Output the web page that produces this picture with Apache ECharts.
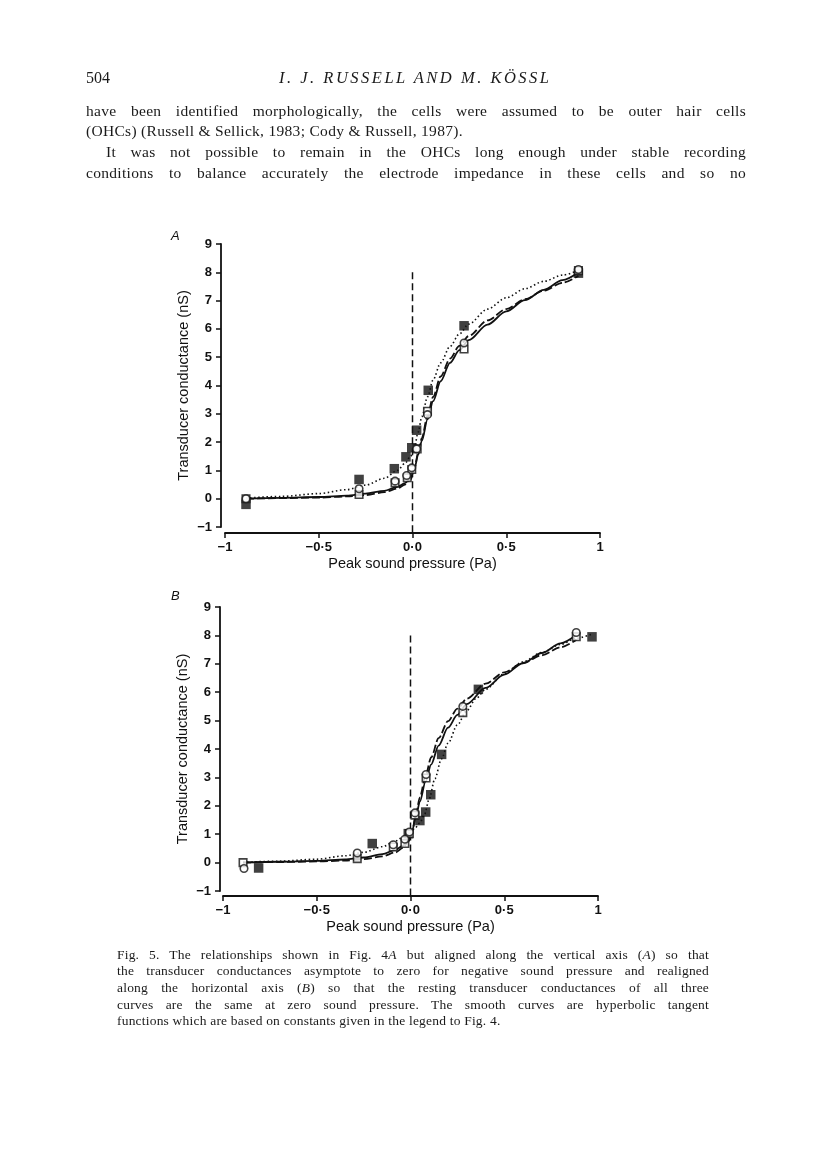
<!DOCTYPE html>
<html>
<head>
<meta charset="utf-8">
<script src="https://cdn.jsdelivr.net/npm/echarts@6/dist/echarts.min.js"></script>
<style>
  body { margin: 0; background: #fff; }
  #page { position: relative; width: 816px; height: 1166px; overflow: hidden; }
  #chart { position: absolute; left: 0; top: 0; width: 816px; height: 1166px; }
  .txt { position: absolute; font-family: "Liberation Serif", "DejaVu Serif", serif; color: #1a1a1a; }
  .body { left: 86px; width: 660px; font-size: 15.5px; letter-spacing: 0.3px; }
  .line { height: 20.7px; line-height: 20.7px; text-align: justify; text-align-last: justify; }
  .line.last { text-align-last: left; }
  .cap { left: 117px; width: 592px; font-size: 13.5px; letter-spacing: 0.2px; }
  .cap .line { height: 16.7px; line-height: 16.7px; }
</style>
</head>
<body>
<div id="page">
  <div id="chart"></div>

  <div class="txt" style="left:86px;top:68px;font-size:16px;line-height:20px;">504</div>
  <div class="txt" style="left:279px;top:68px;font-size:16.5px;line-height:20px;font-style:italic;letter-spacing:2.5px;">I. J. RUSSELL AND M. KÖSSL</div>

  <div class="txt body" style="top:100.5px;">
    <div class="line">have been identified morphologically, the cells were assumed to be outer hair cells</div>
    <div class="line last">(OHCs) (Russell &amp; Sellick, 1983; Cody &amp; Russell, 1987).</div>
    <div class="line" style="padding-left:20px">It was not possible to remain in the OHCs long enough under stable recording</div>
    <div class="line">conditions to balance accurately the electrode impedance in these cells and so no</div>
  </div>

  <div class="txt cap" style="top:946.5px;">
    <div class="line">Fig. 5. The relationships shown in Fig. 4<i>A</i> but aligned along the vertical axis (<i>A</i>) so that</div>
    <div class="line">the transducer conductances asymptote to zero for negative sound pressure and realigned</div>
    <div class="line">along the horizontal axis (<i>B</i>) so that the resting transducer conductances of all three</div>
    <div class="line">curves are the same at zero sound pressure. The smooth curves are hyperbolic tangent</div>
    <div class="line last">functions which are based on constants given in the legend to Fig. 4.</div>
  </div>
</div>

<script>
// tick labels
var xTickValues = [-1, -0.5, 0, 0.5, 1];
var xTickLabels = ["\u22121", "\u22120\u00b75", "0\u00b70", "0\u00b75", "1"];

// panel A: points
var aCircles = [[-0.888, 0.0], [-0.285, 0.35], [-0.093, 0.62], [-0.031, 0.82], [-0.004, 1.09], [0.022, 1.76], [0.08, 2.97], [0.275, 5.5], [0.885, 8.1]];
var aOpenSquares = [[-0.888, 0.0], [-0.285, 0.15], [-0.093, 0.56], [-0.028, 0.74], [-0.004, 1.03], [0.025, 1.76], [0.08, 3.09], [0.275, 5.29], [0.885, 8.06]];
var aFilledSquares = [[-0.888, -0.2], [-0.285, 0.68], [-0.097, 1.06], [-0.035, 1.48], [-0.004, 1.8], [0.022, 2.42], [0.084, 3.83], [0.275, 6.11], [0.885, 7.97]];

// panel A: fitted curves
var aSolid = [[-0.888, 0.0], [-0.7, 0.03], [-0.5, 0.06], [-0.35, 0.11], [-0.25, 0.18], [-0.15, 0.28], [-0.08, 0.42], [-0.04, 0.55], [-0.01, 0.72], [0.01, 1.05], [0.03, 1.55], [0.05, 2.05], [0.08, 2.8], [0.11, 3.45], [0.15, 4.15], [0.2, 4.8], [0.25, 5.25], [0.3, 5.6], [0.4, 6.15], [0.5, 6.62], [0.6, 7.02], [0.7, 7.38], [0.8, 7.72], [0.885, 8.0]];
var aDashed = [[-0.888, 0.0], [-0.7, 0.02], [-0.5, 0.04], [-0.35, 0.08], [-0.25, 0.13], [-0.15, 0.23], [-0.08, 0.36], [-0.04, 0.5], [-0.01, 0.68], [0.01, 1.05], [0.03, 1.62], [0.05, 2.15], [0.08, 2.92], [0.11, 3.6], [0.15, 4.32], [0.2, 4.95], [0.25, 5.4], [0.3, 5.75], [0.4, 6.3], [0.5, 6.7], [0.6, 7.05], [0.7, 7.35], [0.8, 7.63], [0.885, 7.88]];
var aDotted = [[-0.888, 0.02], [-0.7, 0.08], [-0.5, 0.18], [-0.35, 0.32], [-0.25, 0.48], [-0.15, 0.72], [-0.08, 1.0], [-0.04, 1.25], [-0.01, 1.5], [0.01, 1.8], [0.03, 2.35], [0.05, 2.9], [0.08, 3.6], [0.11, 4.2], [0.15, 4.8], [0.2, 5.38], [0.25, 5.82], [0.3, 6.17], [0.4, 6.7], [0.5, 7.1], [0.6, 7.42], [0.7, 7.68], [0.8, 7.9], [0.885, 8.07]];

// panel B: points
var bCircles = [[-0.888, -0.21], [-0.284, 0.34], [-0.092, 0.63], [-0.03, 0.82], [-0.006, 1.08], [0.024, 1.75], [0.083, 3.1], [0.279, 5.5], [0.884, 8.1]];
var bOpenSquares = [[-0.893, 0.0], [-0.284, 0.14], [-0.092, 0.55], [-0.03, 0.67], [-0.006, 1.02], [0.024, 1.67], [0.083, 2.98], [0.279, 5.28], [0.884, 7.95]];
var bFilledSquares = [[-0.81, -0.19], [-0.204, 0.67], [-0.012, 1.02], [0.05, 1.48], [0.081, 1.78], [0.108, 2.39], [0.166, 3.81], [0.362, 6.1], [0.968, 7.95]];

// panel B: fitted curves
var bSolid = [[-0.893, 0.0], [-0.7, 0.03], [-0.5, 0.06], [-0.35, 0.11], [-0.25, 0.18], [-0.15, 0.3], [-0.08, 0.45], [-0.04, 0.6], [-0.01, 0.8], [0.01, 1.15], [0.03, 1.65], [0.05, 2.15], [0.08, 2.85], [0.11, 3.45], [0.15, 4.12], [0.2, 4.75], [0.25, 5.2], [0.3, 5.58], [0.4, 6.15], [0.5, 6.62], [0.6, 7.02], [0.7, 7.38], [0.8, 7.72], [0.885, 8.02]];
var bDashed = [[-0.893, 0.0], [-0.7, 0.02], [-0.5, 0.04], [-0.35, 0.07], [-0.25, 0.12], [-0.15, 0.22], [-0.08, 0.36], [-0.04, 0.52], [-0.01, 0.75], [0.01, 1.15], [0.03, 1.75], [0.05, 2.3], [0.08, 3.05], [0.11, 3.7], [0.15, 4.38], [0.2, 4.98], [0.25, 5.42], [0.3, 5.77], [0.4, 6.3], [0.5, 6.7], [0.6, 7.03], [0.7, 7.3], [0.8, 7.58], [0.885, 7.85]];
var bDotted = [[-0.893, 0.01], [-0.7, 0.05], [-0.5, 0.12], [-0.35, 0.24], [-0.25, 0.36], [-0.15, 0.56], [-0.08, 0.76], [-0.04, 0.9], [-0.01, 1.02], [0.02, 1.18], [0.05, 1.4], [0.075, 1.7], [0.1, 2.25], [0.13, 2.95], [0.165, 3.65], [0.2, 4.2], [0.25, 4.85], [0.3, 5.35], [0.35, 5.78], [0.4, 6.1], [0.5, 6.65], [0.6, 7.07], [0.7, 7.4], [0.8, 7.68], [0.885, 7.9], [0.968, 8.05]];

// zero line
var zeroLine = [[0, 8], [0, -1.21]];

var ink = "#111";

function xAxisFor(grid, off) {
  return {
    type: "value", gridIndex: grid, min: -1, max: 1, interval: 0.5, offset: off,
    name: "Peak sound pressure (Pa)", nameLocation: "middle", nameGap: 23,
    nameTextStyle: { fontFamily: "Liberation Sans", fontSize: 14.5, color: ink },
    axisLine: { onZero: false, lineStyle: { color: ink, width: 1.8 } },
    axisTick: { length: 5, lineStyle: { color: ink, width: 1.5 } },
    splitLine: { show: false },
    axisLabel: {
      margin: 8, fontFamily: "Liberation Sans", fontWeight: "bold", fontSize: 13, color: ink,
      formatter: function (v) {
        var i = xTickValues.indexOf(v);
        return i >= 0 ? xTickLabels[i] : "";
      }
    }
  };
}

function yAxisFor(grid, off) {
  return {
    type: "value", gridIndex: grid, min: -1, max: 9, interval: 1, offset: off,
    name: "Transducer conductance (nS)", nameLocation: "middle", nameGap: 30,
    nameTextStyle: { fontFamily: "Liberation Sans", fontSize: 14.5, color: ink },
    axisLine: { onZero: false, lineStyle: { color: ink, width: 1.8 } },
    axisTick: { length: 5, lineStyle: { color: ink, width: 1.5 } },
    splitLine: { show: false },
    axisLabel: {
      margin: 9, fontFamily: "Liberation Sans", fontWeight: "bold", fontSize: 13, color: ink,
      formatter: function (v) { return v < 0 ? "\u2212" + Math.abs(v) : String(v); }
    }
  };
}

function curve(grid, data, type) {
  var dash = type === "solid" ? "solid" : type === "dashed" ? [8, 3] : [1.5, 2.6];
  return {
    type: "line", xAxisIndex: grid, yAxisIndex: grid, data: data,
    showSymbol: false, smooth: 0.3, smoothMonotone: "x", silent: true, z: 2,
    lineStyle: { color: ink, width: type === "dotted" ? 1.6 : 1.8, type: dash }
  };
}

function points(grid, data, kind) {
  var filled = kind === "filled";
  return {
    type: "scatter", xAxisIndex: grid, yAxisIndex: grid, data: data, z: 3,
    symbol: kind === "circle" ? "circle" : "rect",
    symbolSize: filled ? 9.5 : 7.5,
    itemStyle: filled ? { color: ink } : { color: "#fff", borderColor: ink, borderWidth: 1.6 }
  };
}

function zero(grid) {
  return {
    type: "line", xAxisIndex: grid, yAxisIndex: grid, data: zeroLine, clip: false,
    showSymbol: false, silent: true, z: 1,
    lineStyle: { color: ink, width: 1.5, type: [7, 4] }
  };
}

var myChart = echarts.init(document.getElementById("chart"));
var option = {
  animation: false,
  backgroundColor: "transparent",
  title: [
    { text: "A", left: 166, top: 225, textStyle: { fontFamily: "Liberation Sans", fontStyle: "italic", fontWeight: "normal", fontSize: 13, color: ink } },
    { text: "B", left: 166, top: 585, textStyle: { fontFamily: "Liberation Sans", fontStyle: "italic", fontWeight: "normal", fontSize: 13, color: ink } }
  ],
  grid: [
    { left: 225, top: 244, width: 375, height: 283 },
    { left: 223, top: 607, width: 375, height: 284 }
  ],
  xAxis: [xAxisFor(0, 6), xAxisFor(1, 5)],
  yAxis: [yAxisFor(0, 4), yAxisFor(1, 3)],
  series: [
    zero(0),
    curve(0, aSolid, "solid"),
    curve(0, aDashed, "dashed"),
    curve(0, aDotted, "dotted"),
    points(0, aFilledSquares, "filled"),
    points(0, aOpenSquares, "square"),
    points(0, aCircles, "circle"),
    zero(1),
    curve(1, bSolid, "solid"),
    curve(1, bDashed, "dashed"),
    curve(1, bDotted, "dotted"),
    points(1, bFilledSquares, "filled"),
    points(1, bOpenSquares, "square"),
    points(1, bCircles, "circle")
  ]
};
myChart.setOption(option);
</script>
</body>
</html>
